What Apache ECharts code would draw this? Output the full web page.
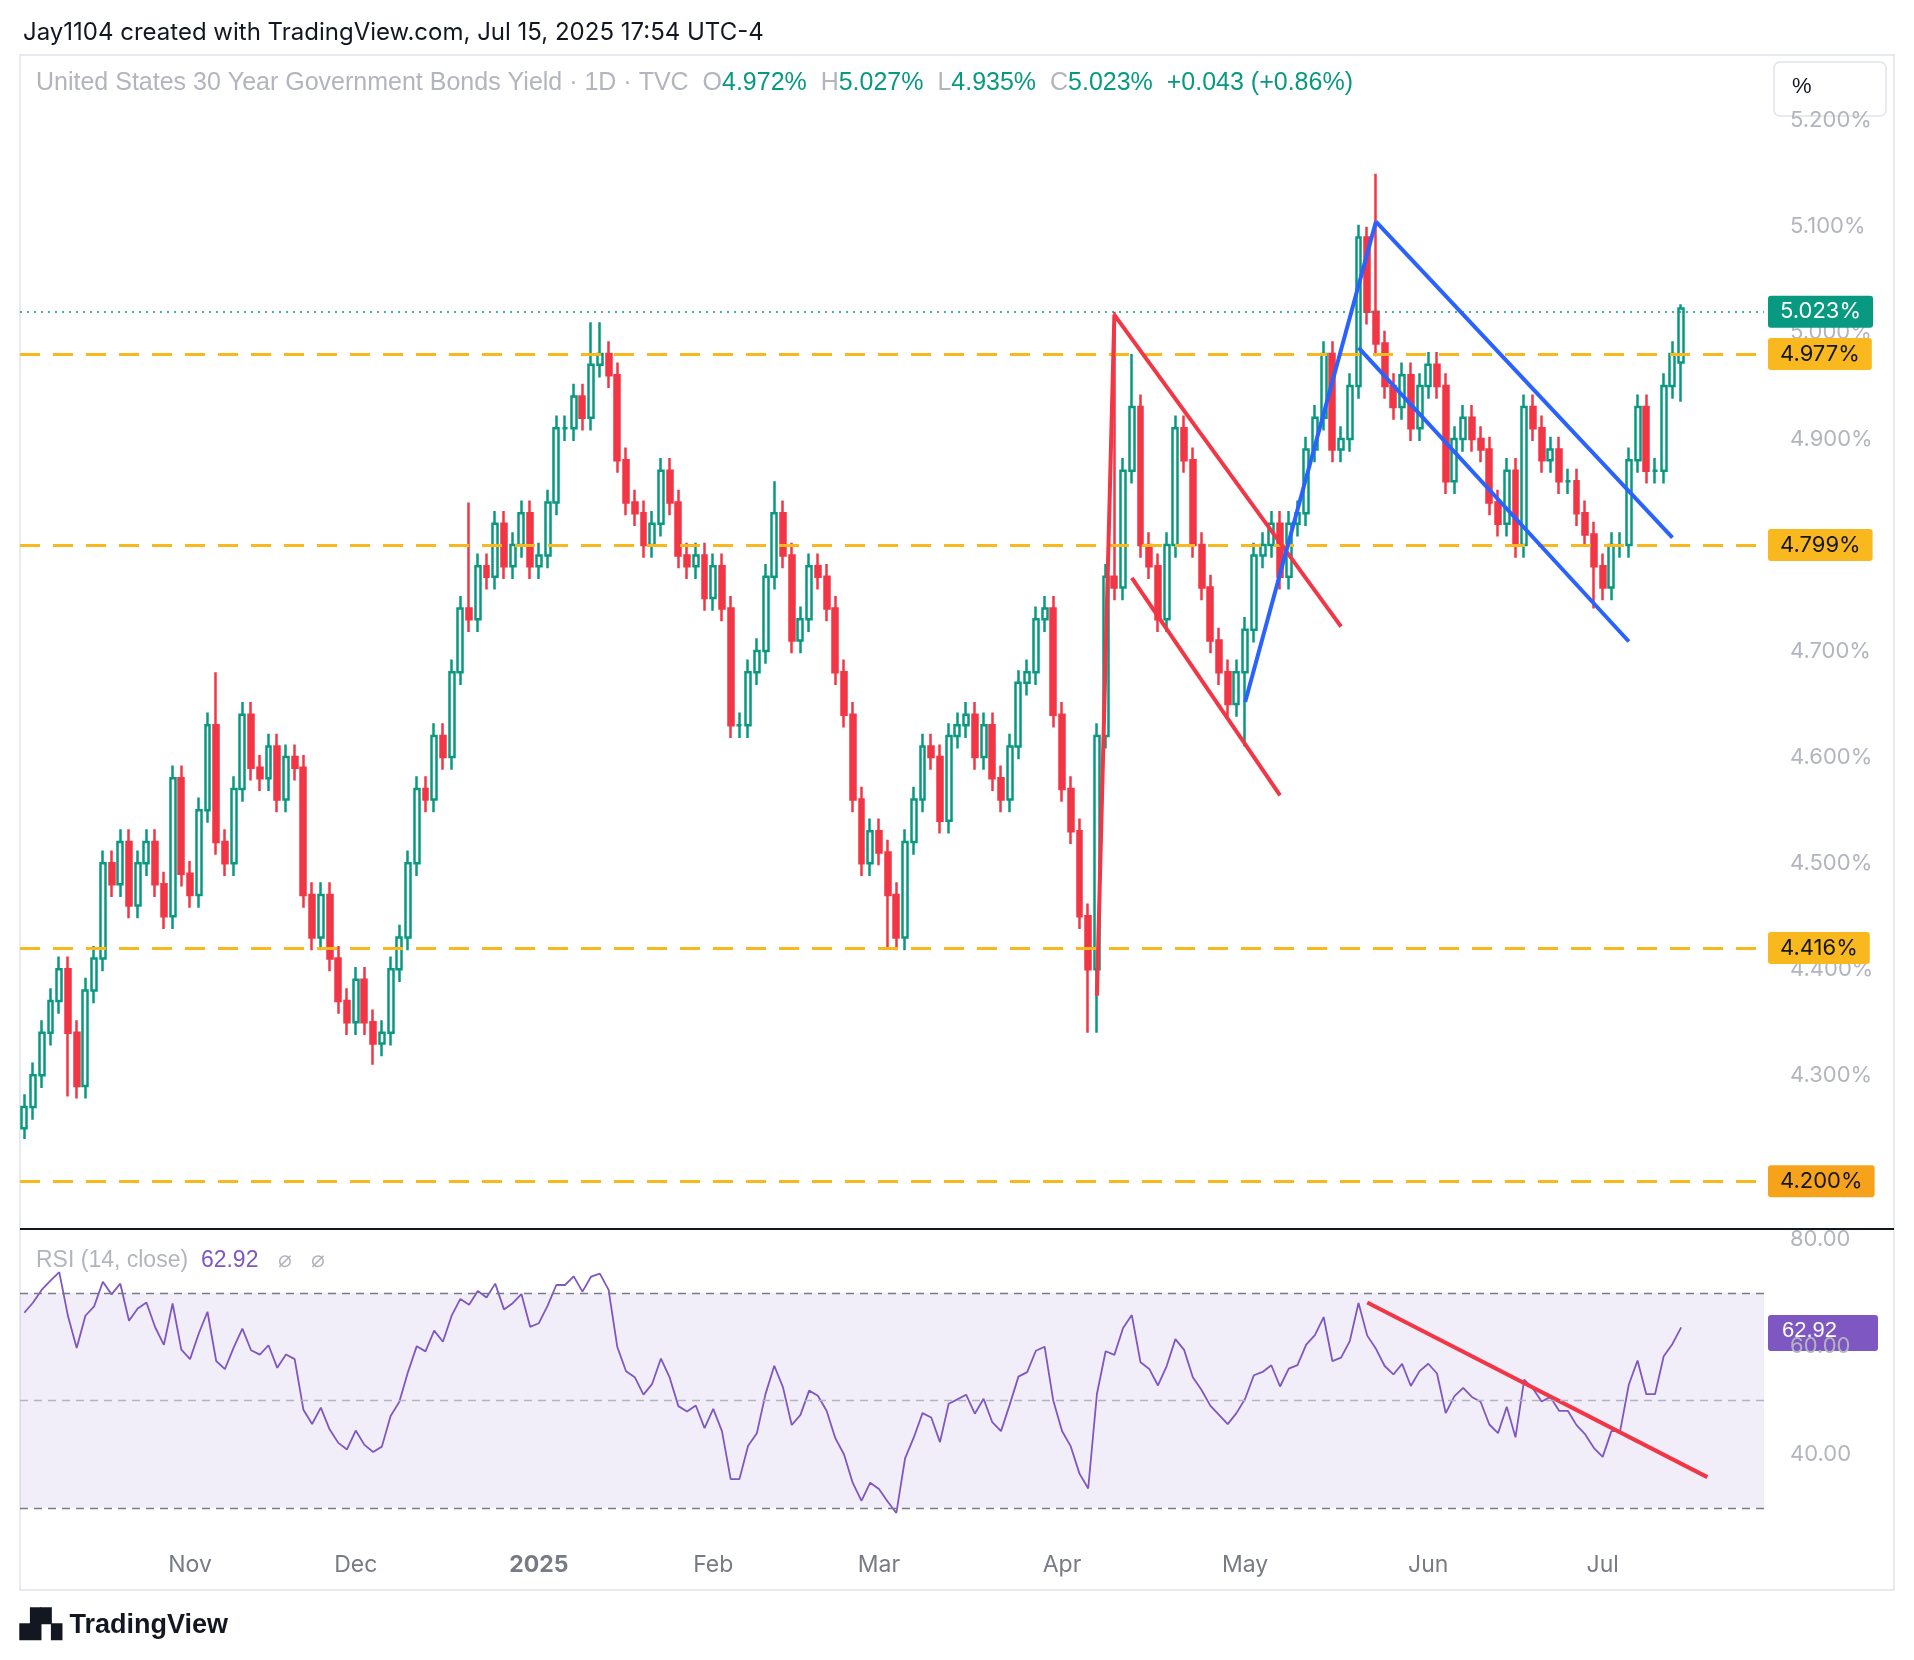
<!DOCTYPE html>
<html>
<head>
<meta charset="utf-8">
<script src="https://cdn.jsdelivr.net/npm/echarts@6/dist/echarts.min.js"></script>
<style>
  html, body { margin: 0; padding: 0; background: #fff; }
  #main { width: 1914px; height: 1660px; }
</style>
</head>
<body>
<div id="main"></div>
<script>
// daily closes, one array per month (Oct 4 2024 .. Jul 15 2025)
var closeOct = [4.27,4.30,4.34,4.37,4.40,4.34,4.29,4.38,4.41,4.50,4.48,4.52,4.46,4.50,4.52,4.48,4.45,4.58,4.49];
var closeNov = [4.47,4.55,4.63,4.52,4.50,4.57,4.64,4.59,4.58,4.61,4.56,4.60,4.59,4.47,4.43,4.47,4.41,4.37,4.35];
var closeDec = [4.39,4.35,4.33,4.34,4.40,4.43,4.50,4.57,4.56,4.62,4.60,4.68,4.74,4.73,4.78,4.77,4.82,4.78,4.80,4.83,4.78];
var closeJan = [4.79,4.84,4.91,4.91,4.94,4.92,4.97,4.98,4.96,4.88,4.84,4.83,4.80,4.82,4.87,4.84,4.79,4.78,4.79,4.75];
var closeFeb = [4.78,4.74,4.63,4.63,4.68,4.70,4.77,4.83,4.79,4.71,4.73,4.78,4.77,4.74,4.68,4.64,4.56,4.50,4.53];
var closeMar = [4.51,4.47,4.43,4.52,4.56,4.61,4.60,4.54,4.62,4.63,4.64,4.60,4.63,4.58,4.56,4.61,4.67,4.68,4.73,4.74,4.64];
var closeApr = [4.57,4.53,4.45,4.40,4.62,4.77,4.76,4.87,4.93,4.80,4.78,4.73,4.80,4.91,4.88,4.80,4.76,4.71,4.68,4.65,4.68];
var closeMay = [4.72,4.79,4.80,4.82,4.77,4.82,4.83,4.89,4.92,4.98,4.89,4.90,4.95,5.09,5.02,4.99,4.95,4.93,4.96,4.91,4.95];
var closeJun = [4.97,4.95,4.86,4.90,4.92,4.90,4.89,4.84,4.82,4.87,4.80,4.93,4.91,4.88,4.89,4.86,4.86,4.83,4.81,4.78];
var closeJul = [4.76,4.80,4.80,4.88,4.93,4.87,4.87,4.95,4.98,5.023];
var firstOpen = 4.25;

// bond market holidays inside the range
var holidays = ['2024-10-14','2024-11-11','2024-11-28','2024-12-25','2025-01-01','2025-01-09',
  '2025-01-20','2025-02-17','2025-04-18','2025-05-26','2025-06-19','2025-07-04'];

// highs / lows that stand out from the default wick
var highs = {'2024-11-06':4.68,'2024-12-19':4.84,'2025-01-13':5.01,'2025-01-14':5.01,'2025-02-12':4.86,
  '2025-04-09':5.02,'2025-04-11':4.98,'2025-05-21':5.10,'2025-05-22':5.15,'2025-07-15':5.027};
var lows = {'2024-10-04':4.24,'2024-10-11':4.28,'2024-12-04':4.31,'2025-03-04':4.42,'2025-04-04':4.34,
  '2025-04-07':4.34,'2025-05-01':4.61,'2025-06-30':4.74,'2025-07-15':4.935};
var wick = 0.012;

var levels = [4.977, 4.799, 4.416, 4.200];
var lastClose = 5.023;
var priceTicks = [4.3,4.4,4.5,4.6,4.7,4.8,4.9,5.0,5.1,5.2];
var rsiTicks = [40,60,80];
var monthNames = ['2025','Feb','Mar','Apr','May','Jun','Jul','Aug','Sep','Oct','Nov','Dec'];

// drawn trend lines: [dateIndex, value] pairs
var redLines = [[[122.9,4.375],[124.9,5.017],[151.1,4.723]], [[127.0,4.769],[144.1,4.564]]];
var blueLines = [[[139.9,4.652],[155.3,5.105]], [[155.0,5.105],[189.1,4.807]], [[152.9,4.986],[183.9,4.709]]];
var rsiTrend = [[154.2,68.2],[193.0,35.7]];

function pad(n){ return n < 10 ? '0'+n : ''+n; }
var dates = [];
var d = new Date(Date.UTC(2024,9,4));
var end = new Date(Date.UTC(2025,6,15));
while (d <= end) {
  var s = d.getUTCFullYear()+'-'+pad(d.getUTCMonth()+1)+'-'+pad(d.getUTCDate());
  var wd = d.getUTCDay();
  if (wd !== 0 && wd !== 6 && holidays.indexOf(s) < 0) dates.push(s);
  d = new Date(d.getTime() + 86400000);
}
var closes = [].concat(closeOct,closeNov,closeDec,closeJan,closeFeb,closeMar,closeApr,closeMay,closeJun,closeJul);
var n = Math.min(dates.length, closes.length);
var cats = dates.slice(0, n);
for (var k = 0; k < 9; k++) cats.push('');

var candles = [];
for (var i = 0; i < n; i++) {
  var o = i === 0 ? firstOpen : closes[i-1];
  if (cats[i] === '2025-07-15') o = 4.972;
  var c = closes[i];
  var hi = highs[cats[i]] || Math.max(o,c) + wick;
  var lo = lows[cats[i]] || Math.min(o,c) - wick;
  candles.push([o, c, lo, hi]);
}

// RSI 14 (Wilder), seeded averages for the start of the window
var avgG = 0.026, avgL = 0.014;
var rsi = [];
for (var i = 0; i < n; i++) {
  var prev = i === 0 ? firstOpen : closes[i-1];
  var ch = closes[i] - prev;
  avgG = (avgG*13 + Math.max(ch,0))/14;
  avgL = (avgL*13 + Math.max(-ch,0))/14;
  rsi.push(+(100 - 100/(1 + avgG/avgL)).toFixed(2));
}

var monthStart = {};
for (var i = 1; i < n; i++) {
  if (cats[i].slice(5,7) !== cats[i-1].slice(5,7)) monthStart[i] = monthNames[(+cats[i].slice(5,7)+11)%12];
}

var UP = '#089981', DOWN = '#f23645', GREY = '#b2b5be';
var lineSeries = [];
redLines.forEach(function(l){ lineSeries.push({type:'line', data:l, symbol:'none', lineStyle:{color:DOWN, width:4}, z:5, silent:true}); });
blueLines.forEach(function(l){ lineSeries.push({type:'line', data:l, symbol:'none', lineStyle:{color:'#2962ff', width:4}, z:5, silent:true}); });

var chart = echarts.init(document.getElementById('main'));
var levelLines = levels.map(function(v){
  return {yAxis:v, label:{backgroundColor: v === 4.2 ? '#f7a21b' : '#f9b81e', formatter: v.toFixed(3)+'%'}};
});
levelLines.push({yAxis:lastClose, lineStyle:{color:UP, type:[2,5], width:1.5},
  label:{backgroundColor:UP, color:'#fff', formatter: lastClose.toFixed(3)+'%'}});

chart.setOption({
  animation: false,
  textStyle: {fontFamily: 'Inter, "Noto Sans", sans-serif'},
  title: {text:'Jay1104 created with TradingView.com, Jul 15, 2025 17:54 UTC-4', left:18, top:16,
    textStyle:{fontSize:24, fontWeight:'normal', color:'#131722'}},
  grid: [
    {left:20, right:150, top:55, height:1173},
    {left:20, right:150, top:1230, height:310}
  ],
  xAxis: [
    {type:'category', data:cats, gridIndex:0, axisLine:{show:false}, axisTick:{show:false}, axisLabel:{show:false}},
    {type:'category', data:cats, gridIndex:1, axisLine:{show:false}, axisTick:{show:false},
      axisLabel:{margin:14, fontSize:23, color:'#787b86',
        interval:function(idx){ return monthStart[idx] !== undefined; },
        formatter:function(v, idx){ var m = monthStart[idx]; return m === '2025' ? '{b|2025}' : m; },
        rich:{b:{fontWeight:'bold', fontSize:23, color:'#787b86'}}}}
  ],
  yAxis: [
    {type:'value', gridIndex:0, position:'right', min:4.156, max:5.262, splitLine:{show:false},
      axisLine:{show:false}, axisTick:{show:false},
      axisLabel:{customValues:priceTicks, fontSize:22, color:GREY, margin:26,
        formatter:function(v){ return v.toFixed(3)+'%'; }}},
    {type:'value', gridIndex:1, position:'right', min:24, max:81.7, splitLine:{show:false},
      axisLine:{show:false}, axisTick:{show:false},
      axisLabel:{customValues:rsiTicks, fontSize:22, color:GREY, margin:26,
        formatter:function(v){ return v.toFixed(2); }}}
  ],
  series: [
    {type:'candlestick', data:candles, xAxisIndex:0, yAxisIndex:0, barWidth:'62%',
      itemStyle:{color:'#ffffff', color0:DOWN, borderColor:UP, borderColor0:DOWN, borderWidth:2.5},
      markLine:{symbol:'none', silent:true, data:levelLines,
        lineStyle:{color:'#f9b81e', type:[20,13], width:3},
        label:{position:'end', distance:4, color:'#131722', fontSize:22, padding:[6,12,4,12], borderRadius:3}}},
    {type:'line', data:rsi, xAxisIndex:1, yAxisIndex:1, symbol:'none', lineStyle:{color:'#7e57c2', width:1.8},
      markArea:{silent:true, itemStyle:{color:'rgba(126,87,194,0.1)'}, data:[[{yAxis:30},{yAxis:70}]]},
      markLine:{symbol:'none', silent:true, lineStyle:{color:'#787b86', type:[8,6], width:1.3}, label:{show:false},
        data:[{yAxis:70},{yAxis:50, lineStyle:{color:'#b2b5be'}},{yAxis:30}]}},
    {type:'line', data:rsiTrend, xAxisIndex:1, yAxisIndex:1, symbol:'none', lineStyle:{color:DOWN, width:4}, silent:true}
  ].concat(lineSeries),
  graphic: [
    {type:'rect', shape:{x:20, y:55, width:1874, height:1535}, style:{fill:'none', stroke:'#e0e3eb', lineWidth:1.5}, silent:true},
    {type:'line', shape:{x1:20, y1:1229, x2:1894, y2:1229}, style:{stroke:'#131722', lineWidth:2}},
    {type:'text', left:36, top:71, style:{rich:{g:{fill:GREY, fontSize:25}, v:{fill:UP, fontSize:25}},
      text:'{g|United States 30 Year Government Bonds Yield · 1D · TVC  O}{v|4.972%}{g|  H}{v|5.027%}{g|  L}{v|4.935%}{g|  C}{v|5.023%}{v|  +0.043 (+0.86%)}'}},
    {type:'rect', shape:{x:1774, y:62, width:112, height:54, r:6}, style:{fill:'#fff', stroke:'#e0e3eb', lineWidth:1.5}},
    {type:'text', left:1792, top:76, style:{text:'%', fontSize:22, fill:'#131722'}},
    {type:'text', left:36, top:1249, style:{rich:{g:{fill:GREY, fontSize:23}, v:{fill:'#7e57c2', fontSize:23}},
      text:'{g|RSI (14, close)  }{v|62.92}{g|   ⌀   ⌀}'}},
    {type:'rect', shape:{x:1768, y:1315, width:110, height:36, r:3}, style:{fill:'#7e57c2'}},
    {type:'text', left:1782, top:1320, style:{text:'62.92', fontSize:22, fill:'#fff'}},
    {type:'text', left:20, top:1612, style:{text:'▟▚ TradingView', fontSize:27, fill:'#131722', fontWeight:'bold'}}
  ]
});
</script>
</body>
</html>
